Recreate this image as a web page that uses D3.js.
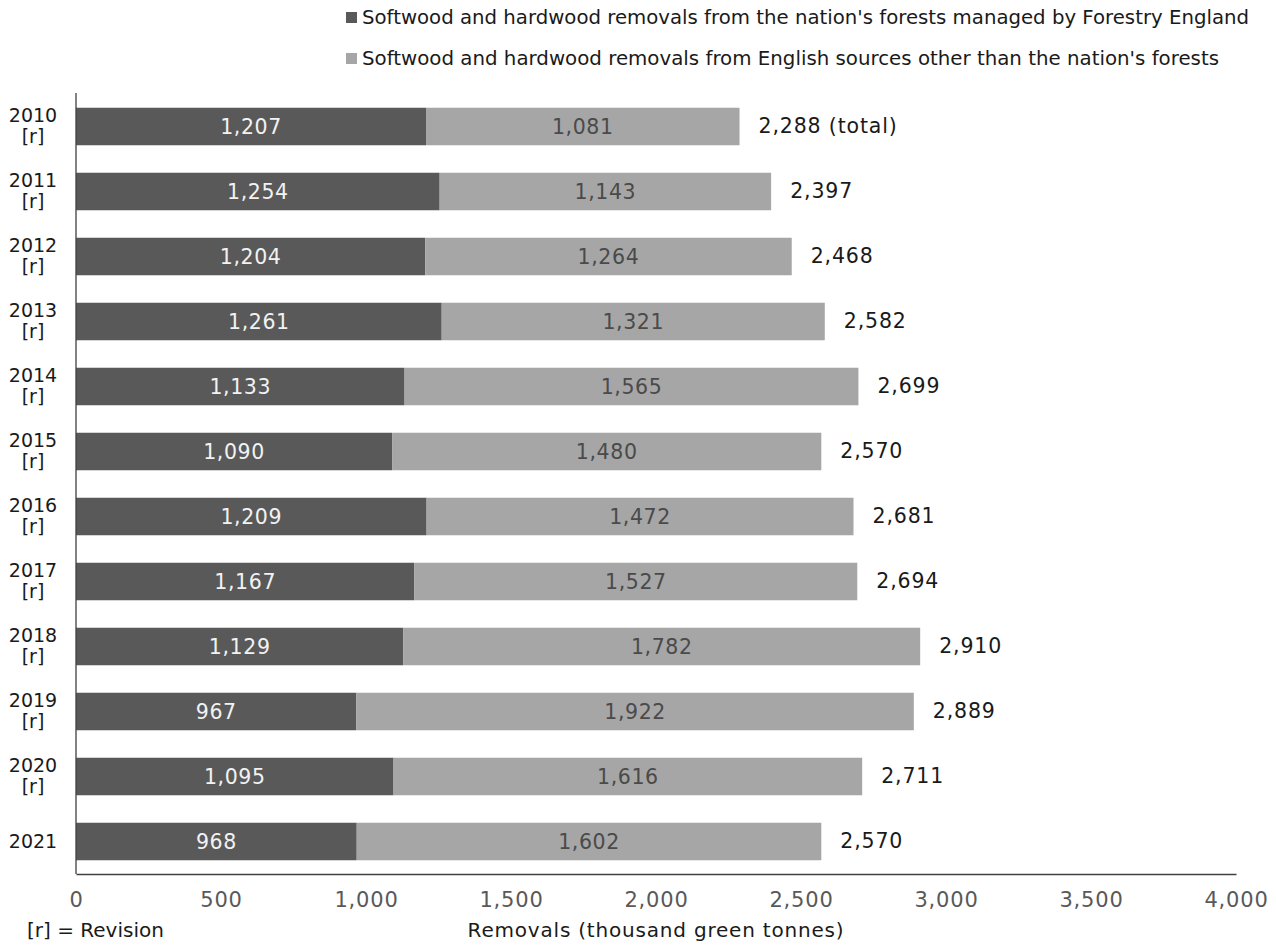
<!DOCTYPE html>
<html>
<head>
<meta charset="utf-8">
<script src="https://cdn.jsdelivr.net/npm/d3@7"></script>
<style>
  html, body { margin: 0; padding: 0; background: #ffffff; }
  svg { display: block; }
  text { font-family: "DejaVu Sans", Verdana, sans-serif; }
</style>
</head>
<body>
<svg id="chart" width="1276" height="948"></svg>
<script>
// ---- data ----
const years = ["2010", "2011", "2012", "2013", "2014", "2015", "2016", "2017", "2018", "2019", "2020", "2021"];
const revised = [true, true, true, true, true, true, true, true, true, true, true, false];
const forestryEngland = [1207, 1254, 1204, 1261, 1133, 1090, 1209, 1167, 1129, 967, 1095, 968];
const otherSources = [1081, 1143, 1264, 1321, 1565, 1480, 1472, 1527, 1782, 1922, 1616, 1602];
const totals = [2288, 2397, 2468, 2582, 2699, 2570, 2681, 2694, 2910, 2889, 2711, 2570];
const seriesNames = [
  "Softwood and hardwood removals from the nation's forests managed by Forestry England",
  "Softwood and hardwood removals from English sources other than the nation's forests"
];
const xTicks = [0, 500, 1000, 1500, 2000, 2500, 3000, 3500, 4000];
const xTitle = "Removals (thousand green tonnes)";
const footnote = "[r] = Revision";

(function () {
// ---- layout ----
const svg = d3.select("#chart");
const mLeft = 76, mRight = 1236, mTop = 94, mBottom = 874;
const colors = ["#595959", "#a6a6a6"];

const x = d3.scaleLinear().domain([0, 4000]).range([mLeft, mRight]);
const y = d3.scaleBand().domain(years).range([mTop, mBottom]).paddingInner(0.423).paddingOuter(0.2115);

const rows = years.map((yr, i) => ({ yr, i, a: forestryEngland[i], b: otherSources[i], t: totals[i], r: revised[i] }));
const fmt = d3.format(",");

// bars
const g = svg.append("g");
g.selectAll("rect.a").data(rows).join("rect")
  .attr("class", "a")
  .attr("x", x(0)).attr("y", d => y(d.yr))
  .attr("width", d => x(d.a) - x(0)).attr("height", y.bandwidth())
  .attr("fill", colors[0]);
g.selectAll("rect.b").data(rows).join("rect")
  .attr("class", "b")
  .attr("x", d => x(d.a)).attr("y", d => y(d.yr))
  .attr("width", d => x(d.a + d.b) - x(d.a)).attr("height", y.bandwidth())
  .attr("fill", colors[1]);

// inner labels
g.selectAll("text.la").data(rows).join("text")
  .attr("class", "la")
  .attr("x", d => (x(0) + x(d.a)) / 2).attr("y", d => y(d.yr) + y.bandwidth() / 2)
  .attr("dy", "0.36em").attr("text-anchor", "middle")
  .attr("font-size", 20.5).attr("letter-spacing", 0.6).attr("fill", "#f2f2f2")
  .text(d => fmt(d.a));
g.selectAll("text.lb").data(rows).join("text")
  .attr("class", "lb")
  .attr("x", d => (x(d.a) + x(d.a + d.b)) / 2).attr("y", d => y(d.yr) + y.bandwidth() / 2)
  .attr("dy", "0.36em").attr("text-anchor", "middle")
  .attr("font-size", 20.5).attr("letter-spacing", 0.6).attr("fill", "#4a4a4a")
  .text(d => fmt(d.b));
// total labels
g.selectAll("text.lt").data(rows).join("text")
  .attr("class", "lt")
  .attr("x", d => x(d.a + d.b) + 19).attr("y", d => y(d.yr) + y.bandwidth() / 2)
  .attr("dy", "0.33em").attr("text-anchor", "start")
  .attr("font-size", 20.5).attr("letter-spacing", 0.85).attr("fill", "#1a1a1a")
  .text(d => fmt(d.t) + (d.i === 0 ? " (total)" : ""));

// y axis line & labels
svg.append("line").attr("x1", mLeft).attr("x2", mLeft).attr("y1", mTop - 1).attr("y2", mBottom)
  .attr("stroke", "#404040").attr("stroke-width", 1.3);
const yl = svg.append("g").selectAll("text").data(rows).join("text")
  .attr("x", 33).attr("text-anchor", "middle")
  .attr("font-size", 19).attr("fill", "#1a1a1a")
  .attr("y", d => y(d.yr) + y.bandwidth() / 2);
yl.each(function (d) {
  const t = d3.select(this);
  if (d.r) {
    t.append("tspan").attr("x", 33).attr("dy", "-0.22em").text(d.yr);
    t.append("tspan").attr("x", 33).attr("dy", "1.07em").text("[r]");
  } else {
    t.append("tspan").attr("x", 33).attr("dy", "0.36em").text(d.yr);
  }
});

// x axis
const xAxis = d3.axisBottom(x).tickValues(xTicks).tickFormat(fmt).tickSize(0).tickPadding(18);
const xa = svg.append("g").attr("transform", `translate(0,${mBottom})`).call(xAxis);
xa.select(".domain").attr("stroke", "#404040").attr("stroke-width", 1.3);
xa.selectAll("text").attr("font-size", 21).attr("letter-spacing", 0.8).attr("fill", "#595959")
  .attr("font-family", "DejaVu Sans, Verdana, sans-serif");

// axis title & footnote
svg.append("text").attr("x", (mLeft + mRight) / 2).attr("y", 937)
  .attr("text-anchor", "middle").attr("font-size", 20).attr("letter-spacing", 0.8)
  .attr("fill", "#1a1a1a").text(xTitle);
svg.append("text").attr("x", 27).attr("y", 937)
  .attr("text-anchor", "start").attr("font-size", 20).attr("fill", "#1a1a1a").text(footnote);

// legend
const legendRows = [{ name: seriesNames[0], c: colors[0], cy: 17.5, w: 887 },
                    { name: seriesNames[1], c: colors[1], cy: 58.5, w: 857 }];
const lg = svg.append("g").selectAll("g").data(legendRows).join("g");
lg.append("rect").attr("x", 346).attr("y", d => d.cy - 5.5).attr("width", 11).attr("height", 11).attr("fill", d => d.c);
lg.append("text").attr("x", 362).attr("y", d => d.cy).attr("dy", "0.36em")
  .attr("font-size", 19).attr("fill", "#1a1a1a")
  .attr("textLength", d => d.w).attr("lengthAdjust", "spacingAndGlyphs")
  .text(d => d.name);
})();
</script>
</body>
</html>
